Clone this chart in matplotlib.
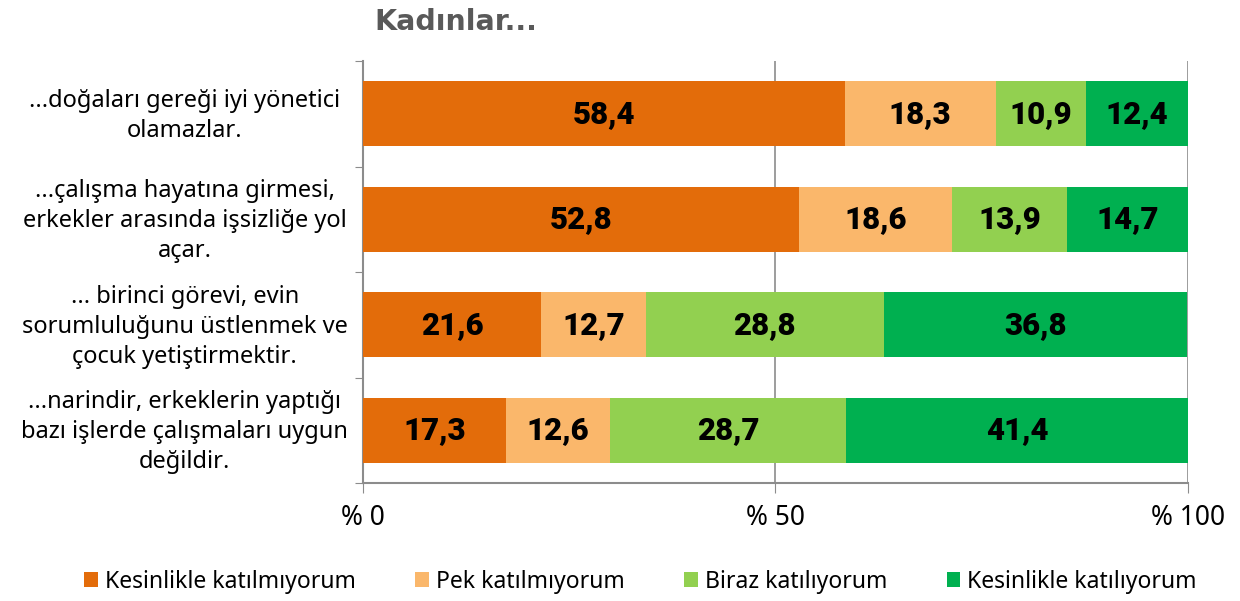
import matplotlib
matplotlib.use("Agg")
import matplotlib.pyplot as plt
from matplotlib.transforms import blended_transform_factory

# sorular (kategoriler)
sorular = ["...doğaları gereği iyi yönetici\nolamazlar.",
           "...çalışma hayatına girmesi,\nerkekler arasında işsizliğe yol\naçar.",
           "... birinci görevi, evin\nsorumluluğunu üstlenmek ve\nçocuk yetiştirmektir.",
           "...narindir, erkeklerin yaptığı\nbazı işlerde çalışmaları uygun\ndeğildir."]

seri_adlari = ["Kesinlikle katılmıyorum", "Pek katılmıyorum",
               "Biraz katılıyorum", "Kesinlikle katılıyorum"]
kesinlikle_katilmiyorum = [58.4, 52.8, 21.6, 17.3]
pek_katilmiyorum = [18.3, 18.6, 12.7, 12.6]
biraz_katiliyorum = [10.9, 13.9, 28.8, 28.7]
kesinlikle_katiliyorum = [12.4, 14.7, 36.8, 41.4]

x_tikler = [0, 50, 100]
x_etiketler = ["% 0", "% 50", "% 100"]

renkler = ["#E36C0A", "#FAB76B", "#92D050", "#00B050"]
gri = "#8C8C8C"
yazi = ["Noto Sans", "DejaVu Sans"]
kalin = ["Roboto", "DejaVu Sans"]

fig = plt.figure(figsize=(12.4, 6.01), dpi=100)
ax = fig.add_axes([0.2927, 0.1963, 0.6653, 0.7022])

seriler = [kesinlikle_katilmiyorum, pek_katilmiyorum, biraz_katiliyorum, kesinlikle_katiliyorum]
y = list(range(len(sorular)))
sol = [0.0] * len(sorular)
for ad, degerler, renk in zip(seri_adlari, seriler, renkler):
    ax.barh(y, degerler, left=sol, height=0.62, color=renk, label=ad, zorder=3)
    for i, d in enumerate(degerler):
        ax.text(sol[i] + d / 2, i, f"{d:.1f}".replace(".", ","), ha="center", va="center",
                fontsize=22.5, fontweight="black", color="black", family=kalin, zorder=4)
    sol = [s + d for s, d in zip(sol, degerler)]

ax.set_xlim(0, 100)
ax.set_ylim(3.5, -0.5)
ax.set_xticks(x_tikler)
ax.set_xticklabels(x_etiketler, fontsize=19, family=yazi)
ax.tick_params(axis="x", length=7, color=gri, pad=8)
ax.set_yticks([-0.5, 0.5, 1.5, 2.5, 3.5])
ax.set_yticklabels([])
ax.tick_params(axis="y", length=6, color=gri)
ax.grid(axis="x", color=gri, linewidth=1.2, zorder=0)
for k in ["top", "right"]:
    ax.spines[k].set_visible(False)
for k in ["left", "bottom"]:
    ax.spines[k].set_color(gri)
    ax.spines[k].set_linewidth(1.5)

tr = blended_transform_factory(ax.transAxes, ax.transData)
for i, s in enumerate(sorular):
    ax.text(-0.216, i + 0.02, s, transform=tr, ha="center", va="center", multialignment="center",
            fontsize=17, family=yazi, linespacing=1.33)

fig.text(0.302, 0.963, "Kadınlar...", fontsize=20.5, fontweight="bold", color="#595959",
         family="DejaVu Sans", va="center")

fig.legend(loc="center", bbox_to_anchor=(0.5165, 0.032), ncol=4, frameon=False,
           handlelength=0.6, handleheight=0.6, handletextpad=0.3, columnspacing=2.6,
           prop={"family": yazi, "size": 16.5})

fig.savefig("out.png", dpi=100)
